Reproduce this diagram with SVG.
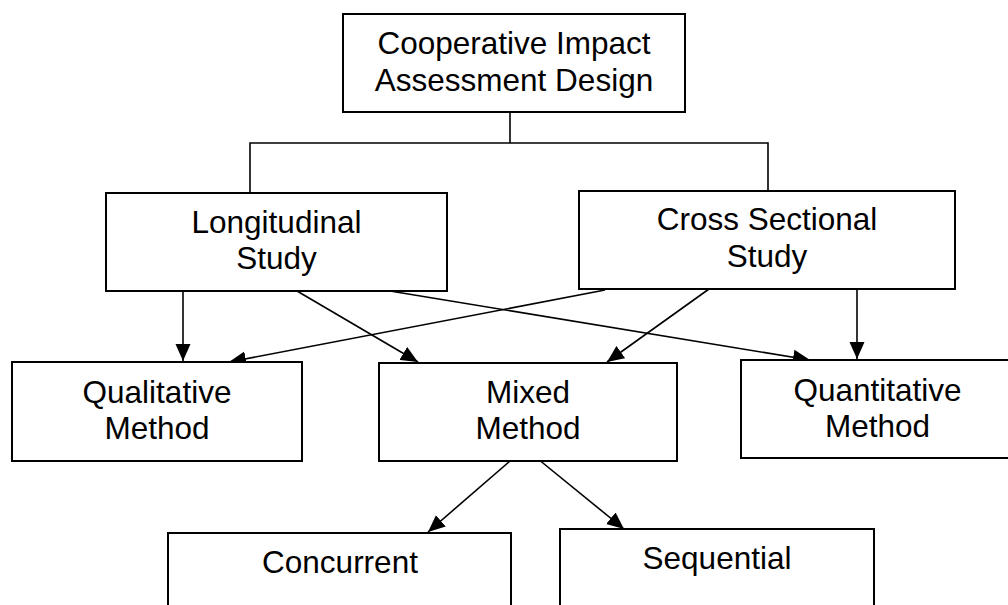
<svg xmlns="http://www.w3.org/2000/svg" width="1008" height="605" viewBox="0 0 1008 605">
<style>
.box{fill:#fff;stroke:#000;stroke-width:2}
.t{font-family:"Liberation Sans",Arial,sans-serif;font-size:31.5px;fill:#000;text-anchor:middle}
.c{fill:none;stroke:#000;stroke-width:1.6}
</style>
<defs>
<marker id="ah" markerUnits="userSpaceOnUse" markerWidth="18" markerHeight="16" refX="17" refY="8" orient="auto">
<path d="M0,0.5 L17,8 L0,15.5 z" fill="#000"/>
</marker>
</defs>
<rect width="1008" height="605" fill="#fff"/>
<g id="connectors">
<polyline class="c" points="510,112 510,143"/>
<polyline class="c" points="250,193 250,143 768,143 768,191"/>
<line class="c" x1="183" y1="291" x2="183" y2="361" marker-end="url(#ah)"/>
<line class="c" x1="297" y1="291" x2="418" y2="362" marker-end="url(#ah)"/>
<line class="c" x1="390" y1="291" x2="810" y2="360" marker-end="url(#ah)"/>
<line class="c" x1="605" y1="290" x2="229" y2="362" marker-end="url(#ah)"/>
<line class="c" x1="709" y1="289" x2="607" y2="362" marker-end="url(#ah)"/>
<line class="c" x1="857" y1="289" x2="857" y2="359" marker-end="url(#ah)"/>
<line class="c" x1="510" y1="461" x2="428" y2="532" marker-end="url(#ah)"/>
<line class="c" x1="538" y1="459" x2="624" y2="529" marker-end="url(#ah)"/>
</g>
<g id="n-root">
<rect class="box" x="343" y="14" width="342" height="98"/>
<text class="t" x="514" y="54">Cooperative Impact</text>
<text class="t" x="514" y="91">Assessment Design</text>
</g>
<g id="n-long">
<rect class="box" x="106" y="193" width="341" height="98"/>
<text class="t" x="276.5" y="233">Longitudinal</text>
<text class="t" x="276.5" y="269">Study</text>
</g>
<g id="n-cross">
<rect class="box" x="579" y="191" width="376" height="98"/>
<text class="t" x="767" y="230">Cross Sectional</text>
<text class="t" x="767" y="267">Study</text>
</g>
<g id="n-qual">
<rect class="box" x="12" y="362" width="290" height="99"/>
<text class="t" x="157" y="403">Qualitative</text>
<text class="t" x="157" y="439">Method</text>
</g>
<g id="n-mixed">
<rect class="box" x="379" y="363" width="298" height="98"/>
<text class="t" x="528" y="403">Mixed</text>
<text class="t" x="528" y="439">Method</text>
</g>
<g id="n-quant">
<rect class="box" x="741" y="360" width="273" height="98"/>
<text class="t" x="877.5" y="401">Quantitative</text>
<text class="t" x="877.5" y="437">Method</text>
</g>
<g id="n-conc">
<rect class="box" x="168" y="533" width="343" height="90"/>
<text class="t" x="340" y="573">Concurrent</text>
</g>
<g id="n-seq">
<rect class="box" x="560" y="529" width="314" height="90"/>
<text class="t" x="717" y="569">Sequential</text>
</g>
</svg>
